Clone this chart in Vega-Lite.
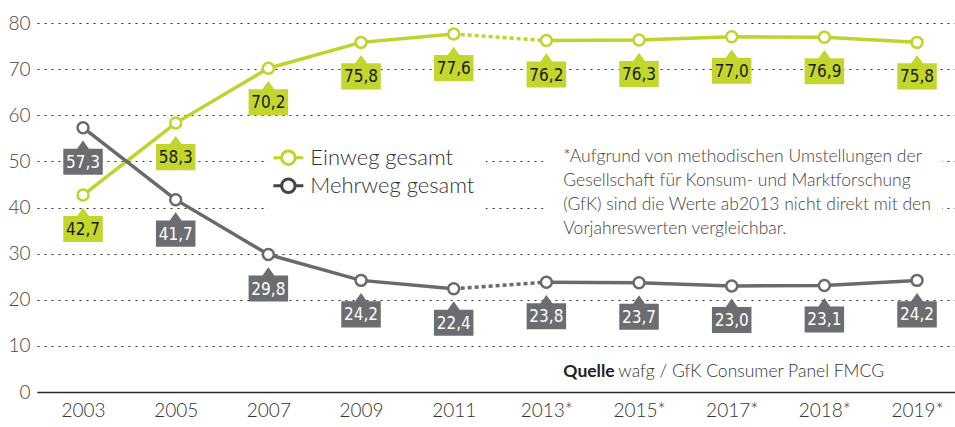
{
  "$schema": "https://vega.github.io/schema/vega-lite/v6.json",
  "width": 918,
  "height": 369,
  "autosize": {"type": "none"},
  "padding": {"left": 37, "top": 23, "right": 0, "bottom": 35},
  "background": "white",
  "config": {
    "view": {"stroke": null},
    "locale": {"number": {"decimal": ",", "thousands": ".", "grouping": [3], "currency": ["", " €"]}},
    "font": "Lato"
  },
  "datasets": {
    "werte": [
      {"jahr": "2003", "typ": "Einweg gesamt", "wert": 42.7, "periode": "alt"},
      {"jahr": "2005", "typ": "Einweg gesamt", "wert": 58.3, "periode": "alt"},
      {"jahr": "2007", "typ": "Einweg gesamt", "wert": 70.2, "periode": "alt"},
      {"jahr": "2009", "typ": "Einweg gesamt", "wert": 75.8, "periode": "alt"},
      {"jahr": "2011", "typ": "Einweg gesamt", "wert": 77.6, "periode": "alt"},
      {"jahr": "2013*", "typ": "Einweg gesamt", "wert": 76.2, "periode": "neu"},
      {"jahr": "2015*", "typ": "Einweg gesamt", "wert": 76.3, "periode": "neu"},
      {"jahr": "2017*", "typ": "Einweg gesamt", "wert": 77.0, "periode": "neu"},
      {"jahr": "2018*", "typ": "Einweg gesamt", "wert": 76.9, "periode": "neu"},
      {"jahr": "2019*", "typ": "Einweg gesamt", "wert": 75.8, "periode": "neu"},
      {"jahr": "2003", "typ": "Mehrweg gesamt", "wert": 57.3, "periode": "alt"},
      {"jahr": "2005", "typ": "Mehrweg gesamt", "wert": 41.7, "periode": "alt"},
      {"jahr": "2007", "typ": "Mehrweg gesamt", "wert": 29.8, "periode": "alt"},
      {"jahr": "2009", "typ": "Mehrweg gesamt", "wert": 24.2, "periode": "alt"},
      {"jahr": "2011", "typ": "Mehrweg gesamt", "wert": 22.4, "periode": "alt"},
      {"jahr": "2013*", "typ": "Mehrweg gesamt", "wert": 23.8, "periode": "neu"},
      {"jahr": "2015*", "typ": "Mehrweg gesamt", "wert": 23.7, "periode": "neu"},
      {"jahr": "2017*", "typ": "Mehrweg gesamt", "wert": 23.0, "periode": "neu"},
      {"jahr": "2018*", "typ": "Mehrweg gesamt", "wert": 23.1, "periode": "neu"},
      {"jahr": "2019*", "typ": "Mehrweg gesamt", "wert": 24.2, "periode": "neu"}
    ],
    "leer": [{"id": 1}]
  },
  "layer": [
    {
      "data": {"name": "leer"},
      "mark": {"type": "rect", "fill": "white", "xOffset": 0, "x2Offset": 32},
      "encoding": {
        "x": {"datum": "2007", "type": "ordinal",
          "scale": {"type": "point", "padding": 0.4532, "align": 0.548, "domain": ["2003", "2005", "2007", "2009", "2011", "2013*", "2015*", "2017*", "2018*", "2019*"]},
          "axis": {
            "title": null, "ticks": false, "labelAngle": 0, "grid": false,
            "domainColor": "#2b2b2b", "domainWidth": 1.5,
            "labelFont": "Lato", "labelFontSize": 19, "labelColor": "#333333",
            "labelPadding": 9, "labelFontWeight": 300
          }
        },
        "x2": {"datum": "2011"},
        "y": {"datum": 53, "type": "quantitative",
          "scale": {"domain": [0, 80], "nice": false},
          "axis": {
            "title": null, "ticks": false, "domain": false, "grid": true,
            "values": [0, 10, 20, 30, 40, 50, 60, 70, 80],
            "gridColor": "#333333", "gridDash": [2, 5], "gridWidth": 1.2,
            "labelFont": "Lato", "labelFontSize": 19, "labelColor": "#444444",
            "labelPadding": 7, "labelFontWeight": 300
          }
        },
        "y2": {"datum": 36}
      }
    },
    {
      "data": {"name": "leer"},
      "mark": {"type": "rect", "fill": "white", "xOffset": -3, "x2Offset": 25},
      "encoding": {
        "x": {"datum": "2013*", "type": "ordinal"}, "x2": {"datum": "2019*"},
        "y": {"datum": 54, "type": "quantitative"}, "y2": {"datum": 34}
      }
    },
    {
      "data": {"name": "werte"},
      "transform": [{"filter": "datum.jahr === '2011' || datum.jahr === '2013*'"}],
      "mark": {"type": "line", "strokeWidth": 3.5, "strokeDash": [4, 3]},
      "encoding": {
        "x": {"field": "jahr", "type": "ordinal"},
        "y": {"field": "wert", "type": "quantitative"},
        "stroke": {
          "field": "typ", "type": "nominal",
          "scale": {"domain": ["Einweg gesamt", "Mehrweg gesamt"], "range": ["#bed42a", "#6a6a6c"]},
          "legend": null
        }
      }
    },
    {
      "data": {"name": "werte"},
      "mark": {"type": "line", "strokeWidth": 3.5},
      "encoding": {
        "x": {"field": "jahr", "type": "ordinal"},
        "y": {"field": "wert", "type": "quantitative"},
        "stroke": {"field": "typ", "type": "nominal", "legend": null},
        "detail": {"field": "periode"}
      }
    },
    {
      "data": {"name": "werte"},
      "mark": {"type": "point", "shape": "circle", "filled": false, "fill": "white", "fillOpacity": 1, "size": 120, "strokeWidth": 2.5, "opacity": 1},
      "encoding": {
        "x": {"field": "jahr", "type": "ordinal"},
        "y": {"field": "wert", "type": "quantitative"},
        "stroke": {"field": "typ", "type": "nominal", "legend": null}
      }
    },
    {
      "data": {"name": "werte"},
      "mark": {
        "type": "point", "filled": true, "opacity": 1, "size": 1560, "yOffset": 34,
        "shape": "M-1,-0.66L-0.3,-0.66L0,-1.08L0.3,-0.66L1,-0.66L1,0.66L-1,0.66Z"
      },
      "encoding": {
        "x": {"field": "jahr", "type": "ordinal"},
        "y": {"field": "wert", "type": "quantitative"},
        "fill": {
          "field": "typ", "type": "nominal",
          "scale": {"domain": ["Einweg gesamt", "Mehrweg gesamt"], "range": ["#c2d62e", "#6c6d70"]},
          "legend": null
        }
      }
    },
    {
      "data": {"name": "werte"},
      "mark": {"type": "text", "font": "DejaVu Sans Condensed", "fontSize": 17, "fontWeight": "normal", "yOffset": 35, "baseline": "middle", "align": "center"},
      "encoding": {
        "x": {"field": "jahr", "type": "ordinal"},
        "y": {"field": "wert", "type": "quantitative"},
        "text": {"field": "wert", "type": "quantitative", "format": ".1f"},
        "color": {"condition": {"test": "datum.typ === 'Mehrweg gesamt'", "value": "white"}, "value": "#1a1a1a"}
      }
    },
    {
      "data": {"name": "leer"},
      "mark": {"type": "point", "filled": false, "opacity": 1, "size": 900, "strokeWidth": 3, "fill": "white", "fillOpacity": 1,
        "shape": "M-1,0L-0.45,0M0.45,0L1,0M-0.45,0A0.45,0.45,0,1,0,0.45,0A0.45,0.45,0,1,0,-0.45,0Z"},
      "encoding": {
        "x": {"datum": "2007", "type": "ordinal"},
        "y": {"datum": 50.8, "type": "quantitative"},
        "xOffset": {"value": 20},
        "stroke": {"value": "#bed42a"}
      }
    },
    {
      "data": {"name": "leer"},
      "mark": {"type": "point", "filled": false, "opacity": 1, "size": 900, "strokeWidth": 3, "fill": "white", "fillOpacity": 1,
        "shape": "M-1,0L-0.45,0M0.45,0L1,0M-0.45,0A0.45,0.45,0,1,0,0.45,0A0.45,0.45,0,1,0,-0.45,0Z"},
      "encoding": {
        "x": {"datum": "2007", "type": "ordinal"},
        "y": {"datum": 44.7, "type": "quantitative"},
        "xOffset": {"value": 20},
        "stroke": {"value": "#454547"}
      }
    },
    {
      "data": {"name": "leer"},
      "mark": {"type": "text", "align": "left", "baseline": "middle", "dx": 42, "font": "Lato", "fontSize": 22, "fontWeight": 300, "color": "#333333", "text": "Einweg gesamt"},
      "encoding": {"x": {"datum": "2007", "type": "ordinal"}, "y": {"datum": 50.8, "type": "quantitative"}}
    },
    {
      "data": {"name": "leer"},
      "mark": {"type": "text", "align": "left", "baseline": "middle", "dx": 42, "font": "Lato", "fontSize": 22, "fontWeight": 300, "color": "#333333", "text": "Mehrweg gesamt"},
      "encoding": {"x": {"datum": "2007", "type": "ordinal"}, "y": {"datum": 44.7, "type": "quantitative"}}
    },
    {
      "data": {"name": "leer"},
      "mark": {
        "type": "text", "align": "left", "baseline": "middle", "dx": 17,
        "font": "Lato", "fontSize": 17.5, "fontWeight": 300, "color": "#444444", "lineHeight": 24,
        "text": ["*Aufgrund von methodischen Umstellungen der", "Gesellschaft für Konsum- und Marktforschung", "(GfK) sind die Werte ab2013 nicht direkt mit den", "Vorjahreswerten vergleichbar."]
      },
      "encoding": {"x": {"datum": "2013*", "type": "ordinal"}, "y": {"datum": 51, "type": "quantitative"}}
    },
    {
      "data": {"name": "leer"},
      "mark": {"type": "text", "align": "left", "baseline": "middle", "dx": 17, "font": "Lato", "fontSize": 17.5, "fontWeight": "bold", "color": "#222222", "text": "Quelle"},
      "encoding": {"x": {"datum": "2013*", "type": "ordinal"}, "y": {"datum": 4.3, "type": "quantitative"}}
    },
    {
      "data": {"name": "leer"},
      "mark": {"type": "text", "align": "left", "baseline": "middle", "dx": 72, "font": "Lato", "fontSize": 17.5, "fontWeight": 300, "color": "#333333", "text": "wafg / GfK Consumer Panel FMCG"},
      "encoding": {"x": {"datum": "2013*", "type": "ordinal"}, "y": {"datum": 4.3, "type": "quantitative"}}
    }
  ]
}
